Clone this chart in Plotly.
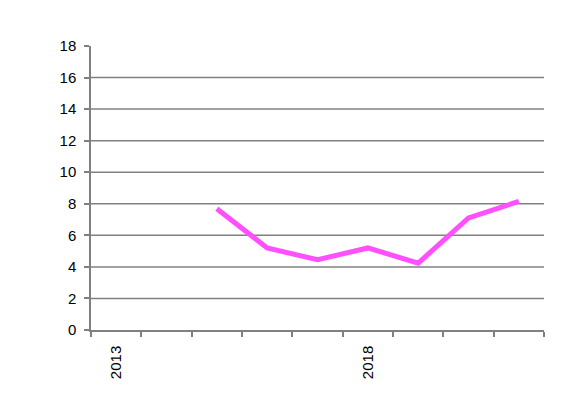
import plotly.graph_objects as go

years = [2015, 2016, 2017, 2018, 2019, 2020, 2021]
values = [7.68, 5.2, 4.45, 5.2, 4.24, 7.1, 8.15]
x_label_vals = [2013, 2018]
x_label_text = ["2013", "2018"]
x_boundaries = [2012.5 + i for i in range(10)]
y_ticks = [0, 2, 4, 6, 8, 10, 12, 14, 16, 18]
grid_vals = [2, 4, 6, 8, 10, 12, 14, 16]

fig = go.Figure()
fig.add_trace(go.Scatter(x=years, y=values, mode="lines",
                         line=dict(color="#FF4FFF", width=5), showlegend=False))

for g in grid_vals:
    fig.add_shape(type="line", xref="paper", x0=0, x1=1, yref="y", y0=g, y1=g,
                  line=dict(color="#808080", width=1.5), layer="below")

fig.update_layout(
    width=568, height=420,
    margin=dict(l=83, r=32, t=38, b=98, autoexpand=False),
    paper_bgcolor="white", plot_bgcolor="white",
    font=dict(family="Liberation Sans, Arial, sans-serif", size=15, color="black"),
    xaxis=dict(range=[2012.5, 2021.5], tickvals=x_label_vals, ticktext=x_label_text,
               tickangle=-90, ticks="outside", ticklen=8, tickcolor="rgba(0,0,0,0)",
               showgrid=False, zeroline=False,
               showline=True, linecolor="#808080", linewidth=1.5,
               minor=dict(tickvals=x_boundaries, ticks="outside", ticklen=5,
                          tickcolor="#808080", tickwidth=1.5, showgrid=False)),
    yaxis=dict(range=[0, 18], tickvals=y_ticks, showgrid=False, zeroline=False,
               showline=True, linecolor="#808080", linewidth=1.5,
               ticks="outside", ticklen=5, tickcolor="#808080", tickwidth=1.5,
               ticklabelstandoff=5),
)

fig.write_html("out.html")
